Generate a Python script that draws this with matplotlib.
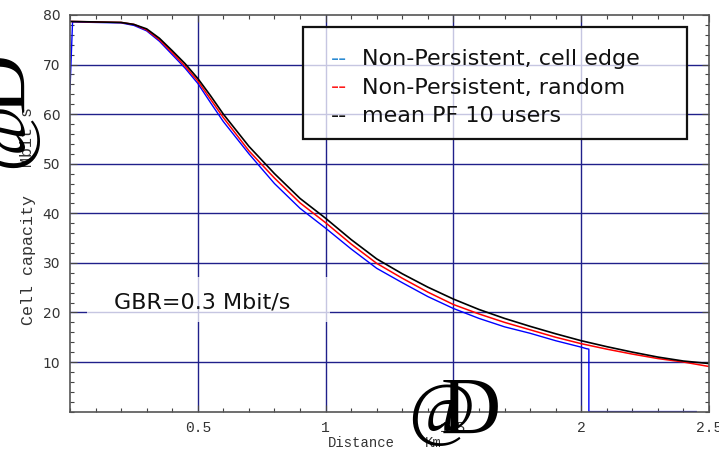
import matplotlib
matplotlib.use("Agg")
import matplotlib.pyplot as plt
from matplotlib.patches import Rectangle
from matplotlib.ticker import MultipleLocator

# ---------------- data ----------------
dist = [0.0, 0.1, 0.2, 0.25, 0.3, 0.35, 0.4, 0.45, 0.5, 0.55, 0.6, 0.7, 0.8, 0.9,
        1.0, 1.1, 1.2, 1.3, 1.4, 1.5, 1.6, 1.7, 1.8, 1.9, 2.0, 2.1, 2.2, 2.3, 2.4, 2.5]
mean_pf = [78.7, 78.6, 78.5, 78.1, 77.2, 75.3, 72.8, 70.2, 67.2, 63.7, 60.0, 53.5, 48.0, 43.0,
           39.0, 34.7, 30.8, 27.8, 25.1, 22.7, 20.6, 18.8, 17.2, 15.7, 14.3, 13.1, 12.0, 11.0, 10.2, 9.7]
np_random = [78.7, 78.6, 78.5, 78.1, 77.0, 75.0, 72.4, 69.7, 66.7, 63.0, 59.3, 52.6, 47.1, 42.1,
             38.1, 33.8, 29.9, 26.9, 24.1, 21.6, 19.7, 18.0, 16.5, 15.0, 13.7, 12.6, 11.6, 10.7, 10.0, 9.1]
edge_dist = [0.0, 0.01, 0.1, 0.2, 0.25, 0.3, 0.35, 0.4, 0.45, 0.5, 0.55, 0.6, 0.7, 0.8, 0.9,
             1.0, 1.1, 1.2, 1.3, 1.4, 1.5, 1.6, 1.7, 1.8, 1.9, 2.0, 2.02, 2.03, 2.03, 2.45]
np_edge = [65.0, 78.6, 78.5, 78.4, 77.9, 76.8, 74.7, 72.0, 69.3, 66.2, 62.3, 58.5, 52.0, 46.0, 41.0,
           37.0, 32.8, 28.9, 26.0, 23.2, 20.8, 18.8, 17.1, 15.8, 14.3, 13.0, 12.7, 12.6, 0.0, 0.0]

xticks = [0.5, 1.0, 1.5, 2.0, 2.5]
xticklabels = ["0.5", "1", "1.5", "2", "2.5"]
yticks = [10, 20, 30, 40, 50, 60, 70, 80]
legend_labels = ["Non-Persistent, cell edge", "Non-Persistent, random", "mean PF 10 users"]
legend_colors = ["#2a8ad2", "#ff1a1a", "#111111"]

W, H = 719, 450
fig = plt.figure(figsize=(W / 100, H / 100), dpi=100)
L, R, T, B = 70, 709, 15, 411.6
ax = fig.add_axes([L / W, 1 - B / H, (R - L) / W, (B - T) / H])
ax.set_xlim(0, 2.5)
ax.set_ylim(0, 80)

grid_c = "#20208a"
for gx in [0.5, 1.0, 1.5, 2.0]:
    ax.axvline(gx, color=grid_c, lw=1.0, zorder=1)
for gy in [10, 20, 30, 40, 50, 60, 70]:
    ax.axhline(gy, color=grid_c, lw=1.0, zorder=1)

ax.plot(edge_dist, np_edge, color="#0000ff", lw=1.0, zorder=3)
ax.plot(dist, np_random, color="#ff0000", lw=1.1, zorder=4)
ax.plot(dist, mean_pf, color="#000000", lw=1.2, zorder=5)

ax.set_xticks(xticks)
ax.set_xticklabels(xticklabels, family="Liberation Mono", fontsize=10.5, color="#333333")
ax.set_yticks(yticks)
ax.set_yticklabels([str(v) for v in yticks], family="DejaVu Sans", fontsize=10, color="#333333")
ax.xaxis.set_minor_locator(MultipleLocator(0.1))
ax.yaxis.set_minor_locator(MultipleLocator(2))
ax.tick_params(which="both", direction="in", top=True, right=True, color="#444444", width=0.8)
ax.tick_params(which="major", length=5, pad=7)
ax.tick_params(which="minor", length=3)
for s in ax.spines.values():
    s.set_color("#555555")
    s.set_linewidth(1.2)
    s.set_zorder(6)

def px(x, y):
    return x / W, 1 - y / H

# GBR annotation with translucent white background
ax.add_patch(Rectangle(((87 - L) / (R - L), (B - 322) / (B - T)), (330 - 87) / (R - L), 45 / (B - T),
                       transform=ax.transAxes, facecolor="white", alpha=0.75, edgecolor="none", zorder=2))
fig.text(*px(114, 309), "GBR=0.3 Mbit/s", family="DejaVu Sans", fontsize=16, color="#111111",
         ha="left", va="baseline", zorder=7)

# legend box
ax.add_patch(Rectangle(((303 - L) / (R - L), (B - 139) / (B - T)), (687 - 303) / (R - L), (139 - 27) / (B - T),
                       transform=ax.transAxes, facecolor="white", alpha=0.75, edgecolor="none", zorder=7))
ax.add_patch(Rectangle(((303 - L) / (R - L), (B - 139) / (B - T)), (687 - 303) / (R - L), (139 - 27) / (B - T),
                       transform=ax.transAxes, facecolor="none", edgecolor="#111111", lw=1.6, zorder=8))
for i, (lab, col) in enumerate(zip(legend_labels, legend_colors)):
    yb = 65 + i * 28.5
    fig.text(*px(331, yb), "--", family="DejaVu Sans", fontsize=16, color=col, ha="left", va="baseline", zorder=9)
    fig.text(*px(362, yb), lab, family="DejaVu Sans", fontsize=16, color="#111111", ha="left", va="baseline", zorder=9)

# axis labels (Mathematica style with oversized bracket glyphs)
fig.text(*px(361, 443), "Distance", family="Liberation Mono", fontsize=10, color="#333333", ha="center", va="center")
fig.text(*px(433, 443), "Km", family="Liberation Mono", fontsize=10, color="#333333", ha="center", va="center")
fig.text(*px(441, 414), "@", family="Liberation Serif", fontsize=52, color="black", ha="center", va="center")
fig.text(*px(471, 414), "D", family="Liberation Serif", fontsize=60, color="black", ha="center", va="center")

fig.text(*px(28, 260), "Cell capacity", family="Liberation Mono", fontsize=12, color="#333333",
         rotation=90, ha="center", va="center")
fig.text(*px(28, 137), "Mbit s", family="Liberation Mono", fontsize=12, color="#333333",
         rotation=90, ha="center", va="center")
fig.text(*px(6, 135), "@", family="Liberation Serif", fontsize=52, color="black", rotation=90, ha="center", va="center")
fig.text(*px(4, 82), "D", family="Liberation Serif", fontsize=60, color="black", rotation=90, ha="center", va="center")

fig.savefig("out.png", dpi=100)
